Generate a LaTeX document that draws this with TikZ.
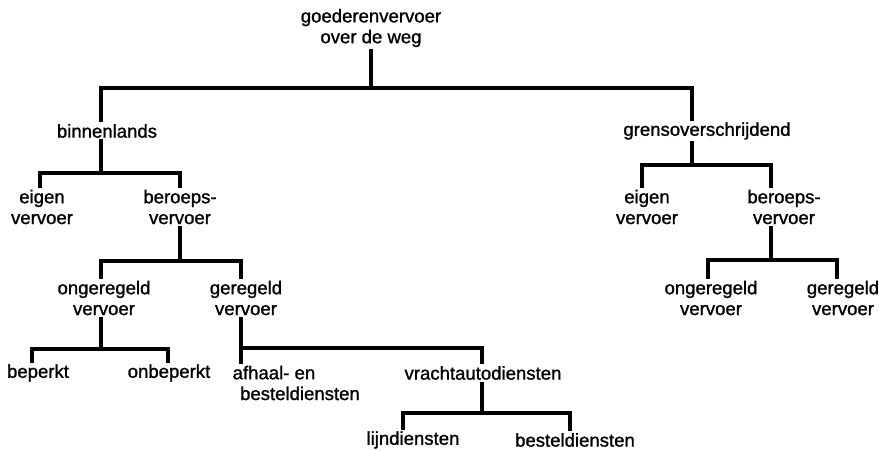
\documentclass[tikz,border=0pt]{standalone}
\usepackage{fontspec}
\setmainfont{Liberation Sans}[BoldFont=Liberation Sans, BoldFeatures={FakeBold=1.2}]
\usetikzlibrary{calc}
\usetikzlibrary{positioning}

\tikzset{
    term/.style={font=\fontsize{13.2}{14.8}\selectfont\bfseries, align=center, inner sep=1pt},
    branch/.style={line width=2.3pt},
}

\begin{document}
\begin{tikzpicture}[x=0.025cm, y=-0.025cm]
    \useasboundingbox (0,0) rectangle (879,451);

    \node [term] (root) at (371,28) {goederenvervoer\\over de weg};
    \node [term] (bin) at (107,131) {binnenlands};
    \node [term] (grens) at (707,131) {grensoverschrijdend};
    \node [term] (beigen) at (42,207) {eigen\\vervoer};
    \node [term] (bberoep) at (180,207) {beroeps-\\vervoer};
    \node [term] (geigen) at (647,207) {eigen\\vervoer};
    \node [term] (gberoep) at (784,207) {beroeps-\\vervoer};
    \node [term] (bonger) at (104,298) {ongeregeld\\vervoer};
    \node [term] (bgereg) at (246,298) {geregeld\\vervoer};
    \node [term] (gonger) at (711,298) {ongeregeld\\vervoer};
    \node [term] (ggereg) at (843,298) {geregeld\\vervoer};
    \node [term] (beperkt) at (38,373) {beperkt};
    \node [term] (onbeperkt) at (169,373) {onbeperkt};
    \node [term, align=left, anchor=west] (afhaal) at (231,383) {afhaal- en\\\hspace{0.4em}besteldiensten};
    \node [term] (vracht) at (483,373) {vrachtautodiensten};
    \node [term] (lijn) at (413,440) {lijndiensten};
    \node [term] (bestel) at (575,440) {besteldiensten};

    % top level
    \coordinate (topbar) at (371,88);
    \draw [branch] (root.south) -- (topbar) -| ($(bin.north)+(-6,0)$);
    \draw [branch] (topbar) -| ($(grens.north)+(-15,0)$);

    % binnenlands
    \coordinate (binbar) at (101,173);
    \draw [branch] (binbar |- bin.south) -- (binbar) -| ($(beigen.north)+(-2,0)$);
    \draw [branch] (binbar) -| (bberoep.north);

    % grensoverschrijdend
    \coordinate (grensbar) at (692,165);
    \draw [branch] (grensbar |- grens.south) -- (grensbar) -| ($(geigen.north)+(-5,0)$);
    \draw [branch] (grensbar) -| ($(gberoep.north)+(-13,0)$);

    % beroepsvervoer
    \coordinate (bberbar) at (180,261);
    \draw [branch] (bberbar |- bberoep.south) -- (bberbar) -| ($(bonger.north)+(-3,0)$);
    \draw [branch] (bberbar) -| ($(bgereg.north)+(-5,0)$);
    \coordinate (gberbar) at (771,260);
    \draw [branch] (gberbar |- gberoep.south) -- (gberbar) -| ($(gonger.north)+(-3,0)$);
    \draw [branch] (gberbar) -| ($(ggereg.north)+(-6,0)$);

    % ongeregeld / geregeld
    \coordinate (ongbar) at (101,349);
    \draw [branch] (ongbar |- bonger.south) -- (ongbar) -| ($(beperkt.north)+(-6,0)$);
    \draw [branch] (ongbar) -| ($(onbeperkt.north)+(-1,0)$);
    \coordinate (gerbar) at (241,348);
    \draw [branch] (gerbar |- bgereg.south) -- (gerbar |- afhaal.north);
    \draw [branch] (gerbar) -| ($(vracht.north)+(-1,0)$);

    % vrachtautodiensten
    \coordinate (vrbar) at (482,413);
    \draw [branch] (vrbar |- vracht.south) -- (vrbar) -| ($(lijn.north)+(-10,0)$);
    \draw [branch] (vrbar) -| ($(bestel.north)+(-5,0)$);
\end{tikzpicture}
\end{document}
